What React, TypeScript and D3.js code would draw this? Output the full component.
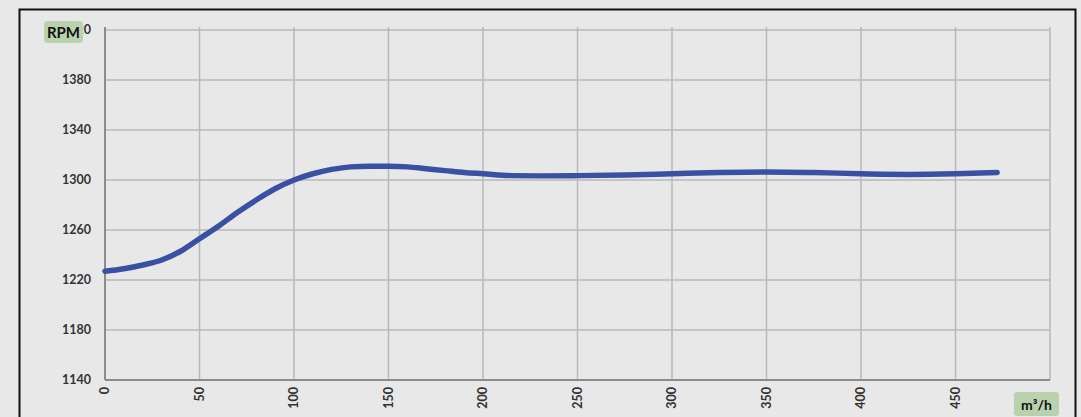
import React from "react";
import * as d3 from "d3";

const flowValues = [0, 10, 20, 30, 40, 50, 60, 70, 80, 90, 100, 110, 120, 130, 140, 150, 160, 170, 180, 190, 200, 215, 230, 250, 275, 300, 325, 350, 375, 400, 425, 450, 472];
const rpmValues = [1227, 1229, 1232, 1236, 1243, 1253, 1263, 1274, 1284, 1293, 1300, 1305, 1308.5, 1310.5, 1311, 1311, 1310.5, 1309, 1307.5, 1306, 1305, 1303.5, 1303.3, 1303.5, 1304, 1305, 1306, 1306.5, 1306, 1305, 1304.5, 1305, 1306];
const xTicks = [0, 50, 100, 150, 200, 250, 300, 350, 400, 450];
const yTicks = [1140, 1180, 1220, 1260, 1300, 1340, 1380, 1420];

const W = 1081;
const H = 417;
const L = 105, R = 1050, T = 30, B = 380;

export default function App() {
  const x = d3.scaleLinear().domain([0, 500]).range([L, R]);
  const y = d3.scaleLinear().domain([1140, 1420]).range([B, T]);
  const pts = flowValues.map((f, i) => [f, rpmValues[i]] as [number, number]);
  const line = d3.line<[number, number]>().x(d => x(d[0])).y(d => y(d[1])).curve(d3.curveMonotoneX);
  const font = "Lato, 'Open Sans', sans-serif";
  return (
    <svg width={W} height={H} style={{ position: "absolute", left: 0, top: 0, background: "#e8e8e8" }} fontFamily={font}>
      <rect x={0} y={0} width={W} height={H} fill="#e8e8e8" />
      <rect x={19.5} y={9.5} width={1056} height={420} fill="#e8e8e8" stroke="#111" strokeWidth={2} />
      {[...xTicks, 500].map(t => (
        <line key={"gx" + t} x1={x(t)} x2={x(t)} y1={T - 3} y2={B} stroke="#b8b8b8" strokeWidth={1.5} />
      ))}
      {yTicks.map(t => (
        <line key={"gy" + t} x1={L} x2={R} y1={y(t)} y2={y(t)} stroke="#b8b8b8" strokeWidth={1.5} />
      ))}
      <line x1={L} x2={L} y1={T - 3} y2={B} stroke="#8c8c8c" strokeWidth={2} />
      <line x1={L} x2={R} y1={B} y2={B} stroke="#8c8c8c" strokeWidth={2} />
      {yTicks.map(t => (
        <text key={"ly" + t} x={91} y={y(t) + 4} textAnchor="end" fontSize={12.5} fontWeight={700} fill="#333">{t}</text>
      ))}
      {xTicks.map(t => (
        <text key={"lx" + t} transform={`translate(${x(t) + 4},${B + 7}) rotate(-90)`} textAnchor="end" fontSize={12.5} fontWeight={700} fill="#333">{t}</text>
      ))}
      <path d={line(pts) || ""} fill="none" stroke="#3a51a3" strokeWidth={5.5} strokeLinecap="round" />
      <rect x={44} y={21} width={39} height={22} rx={4} fill="#b9d2ad" />
      <text x={63.5} y={37.5} textAnchor="middle" fontSize={15} fontWeight={700} fill="#111">RPM</text>
      <rect x={1014} y={392} width={45} height={24} rx={3} fill="#b9d2ad" />
      <text x={1036.5} y={409.5} textAnchor="middle" fontSize={14} fontWeight={700} fill="#111">m³/h</text>
    </svg>
  );
}
